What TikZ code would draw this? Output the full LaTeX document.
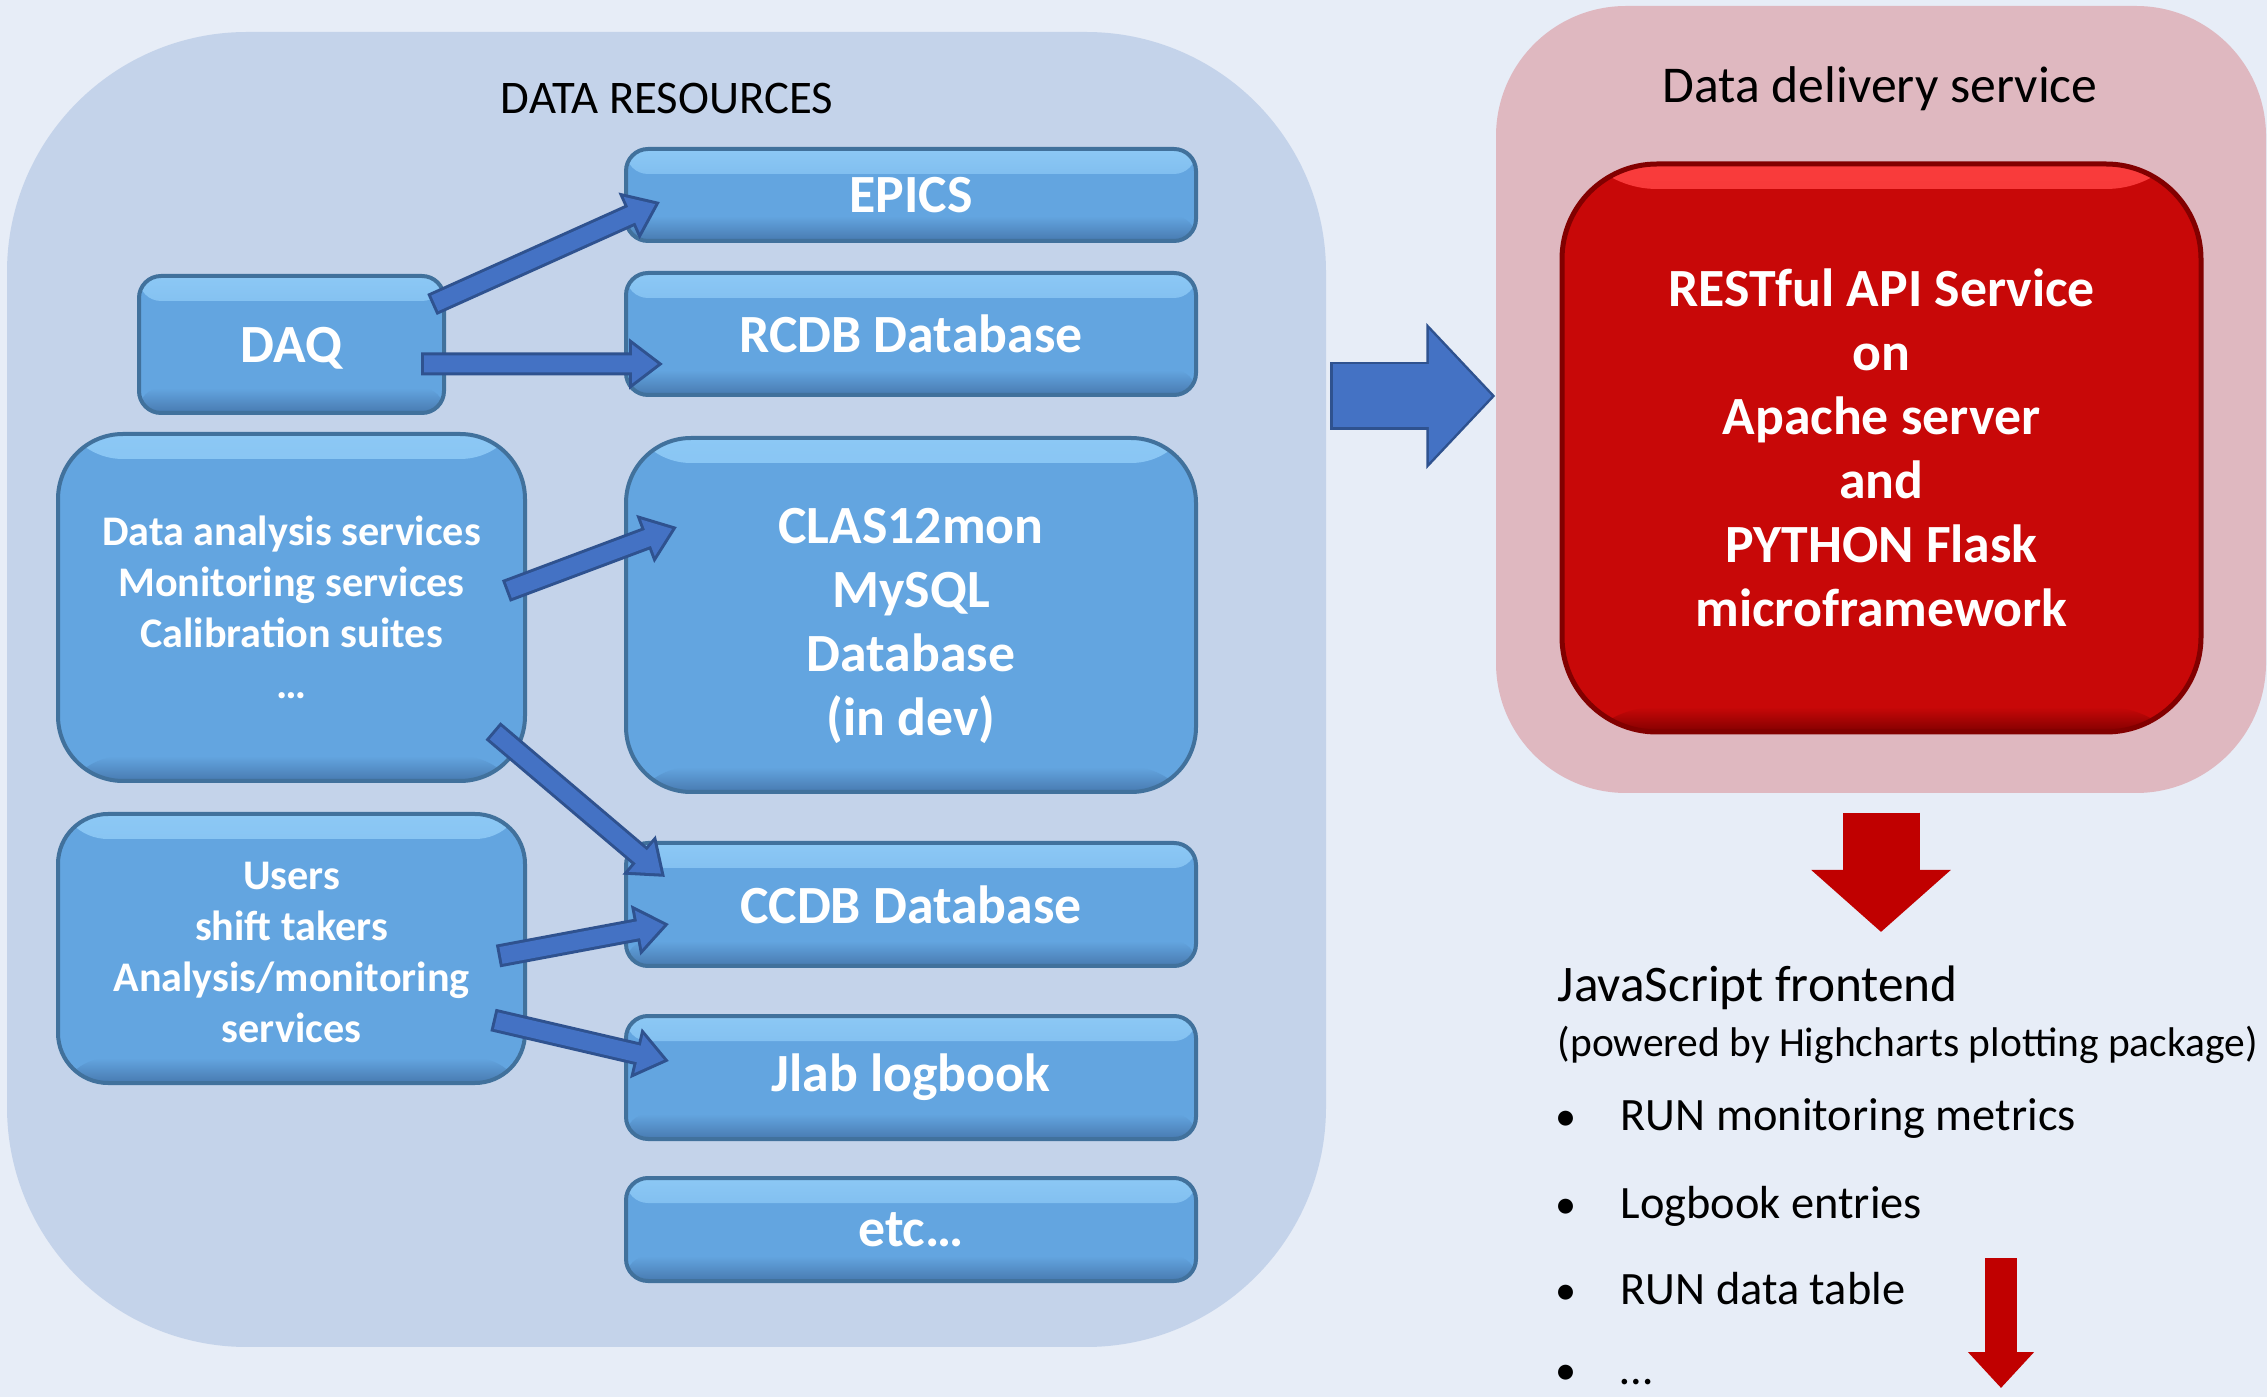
\documentclass[tikz,border=0pt]{standalone}
\usepackage{fontspec}
\setmainfont{Carlito}
\usetikzlibrary{arrows.meta,calc}

\definecolor{pagebg}{RGB}{231,237,247}
\definecolor{resbg}{RGB}{196,211,234}
\definecolor{dlvbg}{RGB}{223,184,192}
\definecolor{boxblue}{RGB}{99,165,224}
\definecolor{boxlight}{RGB}{140,200,245}
\definecolor{boxdark}{RGB}{72,122,176}
\definecolor{boxedge}{RGB}{65,113,156}
\definecolor{arrblue}{RGB}{68,114,196}
\definecolor{arredge}{RGB}{47,82,143}
\definecolor{apired}{RGB}{200,8,8}
\definecolor{apilight}{RGB}{250,60,60}
\definecolor{apidark}{RGB}{130,0,0}
\definecolor{downred}{RGB}{192,0,0}

\begin{document}
\begin{tikzpicture}[x=0.1mm,y=-0.1mm,
	cont/.style={inner sep=0pt},
	bevel/.style n args={3}{path picture={
		\shade[top color=#1,bottom color=#2] (path picture bounding box.north west) rectangle ([yshift=-2.5mm]path picture bounding box.north east);
		\shade[top color=#2,bottom color=#3] ([yshift=2.5mm]path picture bounding box.south west) rectangle (path picture bounding box.south east);}},
	box/.style={cont, draw=boxedge, line width=0.4mm, fill=boxblue, rounded corners=2.2mm,
		bevel={boxlight}{boxblue}{boxdark}, minimum width=57mm, text=white, align=center,
		font=\bfseries\fontsize{15.3}{18.2}\selectfont},
	small/.style={font=\bfseries\fontsize{12}{14.5}\selectfont},
	item/.style={anchor=base west, inner sep=0pt, font=\fontsize{13.2}{15}\selectfont},
	dot/.style={anchor=base, inner sep=0pt, font=\fontsize{12}{15}\selectfont},
	sarr/.style={draw=arrblue, line width=1.7mm, shorten <=0.3mm, shorten >=0.51mm,
		-{Triangle[length=2.59mm,width=3.73mm]},
		preaction={draw=arredge, line width=2.3mm, shorten <=0mm, shorten >=0mm,
			-{Triangle[length=3.4mm,width=4.9mm]}}},
	barr/.style={draw=arrblue, line width=6.3mm, shorten <=0.25mm, shorten >=0.35mm,
		-{Triangle[length=6.3mm,width=12.97mm]},
		preaction={draw=arredge, line width=6.8mm, shorten <=0mm, shorten >=0mm,
			-{Triangle[length=6.9mm,width=14.2mm]}}},
	redarr/.style={draw=downred, line width=7.7mm, -{Triangle[length=6.2mm,width=13.6mm]}},
	redarrs/.style={draw=downred, line width=3.2mm, -{Triangle[length=3.6mm,width=6.4mm]}}]

	\useasboundingbox (0,0) rectangle (2267,1397);
	\fill[pagebg] (0,0) rectangle (2267,1397);

	% Containers
	\node (res) [cont, fill=resbg, rounded corners=24mm, minimum width=131.9mm, minimum height=131.5mm] at (666.5,689.5) {};
	\node (dlv) [cont, fill=dlvbg, rounded corners=13mm, minimum width=77mm, minimum height=78.7mm] at (1881,399.5) {};
	\node (resT) [anchor=base, font=\fontsize{13.3}{15}\selectfont] at (667,114) {DATA RESOURCES};
	\node (dlvT) [anchor=base, font=\fontsize{14.7}{17}\selectfont] at (1880,103) {Data delivery service};

	% Data resources
	\node (epics) [box, minimum height=9.2mm] at (911,195) {EPICS};
	\node (rcdb) [box, minimum height=12.2mm] at (911,334) {RCDB Database};
	\node (daq) [box, text depth=0pt, minimum width=30.5mm, minimum height=13.7mm] at (291.5,344.5) {DAQ};
	\node (ana) [box, small, rounded corners=6.5mm, minimum width=46.7mm, minimum height=34.7mm] at (291.5,607.5)
		{Data analysis services\\Monitoring services\\Calibration suites\\…};
	\node (clas) [box, rounded corners=6.5mm, minimum height=35.4mm] at (911,615)
		{\rule{0pt}{5.8mm}CLAS12mon\\MySQL\\Database\\(in dev)};
	\node (ccdb) [box, minimum height=12.3mm] at (911,904.5) {CCDB Database};
	\node (usr) [box, small, rounded corners=5mm, minimum width=46.7mm, minimum height=26.9mm] at (291.5,948.5)
		{\rule{0pt}{3.6mm}Users\\shift takers\\Analysis/monitoring\\services};
	\node (jlab) [box, minimum height=12.3mm] at (911,1077.5) {Jlab logbook};
	\node (etc) [box, minimum height=10.3mm] at (911,1229.5) {etc…};

	% Delivery service
	\node (api) [cont, fill=apired, draw=apidark, line width=0.5mm, rounded corners=9.5mm,
		bevel={apilight}{apired}{apidark}, minimum width=63.9mm, minimum height=56.8mm,
		text=white, align=center, font=\bfseries\fontsize{15.3}{18.2}\selectfont] at (1881.5,448)
		{RESTful API Service\\on\\Apache server\\and\\PYTHON Flask\\microframework};

	% Frontend
	\node (js) [anchor=base west, inner sep=0pt, font=\fontsize{14.6}{17}\selectfont] at (1557,1001) {JavaScript frontend};
	\node (hc) [anchor=base west, inner sep=0pt, font=\fontsize{11.8}{14}\selectfont] at (1557,1056) {(powered by Highcharts plotting package)};
	\node (b1) [dot] at (1566,1130) {•};
	\node (b2) [dot] at (1566,1218) {•};
	\node (b3) [dot] at (1566,1304) {•};
	\node (b4) [dot] at (1566,1384) {•};
	\node (m1) [item] at (1620,1130) {RUN monitoring metrics};
	\node (m2) [item] at (1620,1218) {Logbook entries};
	\node (m3) [item] at (1620,1304) {RUN data table};
	\node (m4) [item] at (1620,1384) {…};

	% Arrows inside data resources
	\draw[sarr] ($(daq.east)+(-14,-40)$) -- ($(epics.west)+(36,7)$);
	\draw[sarr] ($(daq.east)+(-25,19.5)$) -- ($(rcdb.west)+(39,30)$);
	\draw[sarr] ($(ana.east)+(-21,-16.5)$) -- ($(clas.west)+(53,-88)$);
	\draw[sarr] ($(ana.east)+(-34,123.5)$) -- ($(ccdb.west)+(41,-27.5)$);
	\draw[sarr] ($(usr.east)+(-29,7.5)$) -- ($(ccdb.west)+(45,19.5)$);
	\draw[sarr] ($(usr.east)+(-34,71.5)$) -- ($(jlab.west)+(45,-16.5)$);

	% Big arrows
	\coordinate (bt) at (1330,396);
	\draw[barr] (bt) -- (dlv.west |- bt);
	\coordinate (d1) at (1881,932);
	\draw[redarr] ([yshift=-1.9mm]dlv.south) -- (d1);
	\coordinate (d2a) at (2001,1258);
	\coordinate (d2b) at (2001,1388);
	\draw[redarrs] (d2a) -- (d2b);

\end{tikzpicture}
\end{document}
